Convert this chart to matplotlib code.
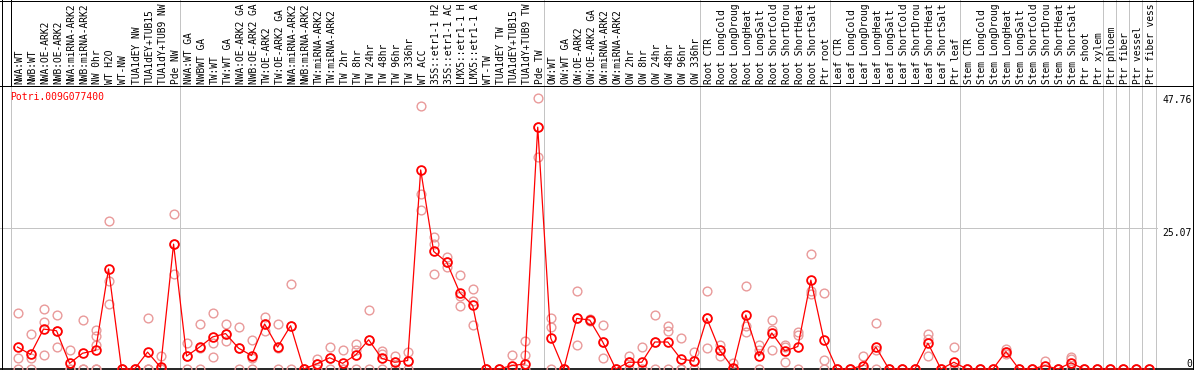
import matplotlib
matplotlib.use('Agg')
import matplotlib.pyplot as plt
from matplotlib.lines import Line2D
from matplotlib.transforms import blended_transform_factory

gene = 'Potri.009G077400'

# column labels, as far as the reference shows them (the header cuts them off)
labels = [
    'NWA:WT', 'NWB:WT', 'NWA:OE-ARK2', 'NWB:OE-ARK2', 'NWA:miRNA-ARK2', 'NWB:miRNA-ARK2',
    'NW 0hr', 'WT H2O', 'WT-NW', 'TUA1dEY NW', 'TUA1dEY+TUB15', 'TUA1dY+TUB9 NW', 'Pde NW',
    'NWA:WT GA', 'NWBWT GA', 'TW:WT', 'TW:WT GA', 'NWA:OE-ARK2 GA', 'NWB:OE-ARK2 GA',
    'TW:OE-ARK2', 'TW:OE-ARK2 GA', 'NWA:miRNA-ARK2', 'NWB:miRNA-ARK2', 'TW:miRNA-ARK2',
    'TW:miRNA-ARK2', 'TW 2hr', 'TW 8hr', 'TW 24hr', 'TW 48hr', 'TW 96hr', 'TW 336hr', 'WT ACC',
    '35S::etr1-1 H2', '35S::etr1-1 AC', 'LMX5::etr1-1 H', 'LMX5::etr1-1 A', 'WT-TW',
    'TUA1dEY TW', 'TUA1dEY+TUB15', 'TUA1dY+TUB9 TW', 'Pde TW',
    'OW:WT', 'OW:WT GA', 'OW:OE-ARK2', 'OW:OE-ARK2 GA', 'OW:miRNA-ARK2', 'OW:miRNA-ARK2',
    'OW 2hr', 'OW 8hr', 'OW 24hr', 'OW 48hr', 'OW 96hr', 'OW 336hr',
    'Root CTR', 'Root LongCold', 'Root LongDroug', 'Root LongHeat', 'Root LongSalt',
    'Root ShortCold', 'Root ShortDrou', 'Root ShortHeat', 'Root ShortSalt', 'Ptr root',
    'Leaf CTR', 'Leaf LongCold', 'Leaf LongDroug', 'Leaf LongHeat', 'Leaf LongSalt',
    'Leaf ShortCold', 'Leaf ShortDrou', 'Leaf ShortHeat', 'Leaf ShortSalt', 'Ptr leaf',
    'Stem CTR', 'Stem LongCold', 'Stem LongDroug', 'Stem LongHeat', 'Stem LongSalt',
    'Stem ShortCold', 'Stem ShortDrou', 'Stem ShortHeat', 'Stem ShortSalt', 'Ptr shoot',
    'Ptr xylem', 'Ptr phloem', 'Ptr fiber', 'Ptr vessel', 'Ptr fiber vess',
]

group_sizes = [13, 28, 12, 10, 10, 11, 1, 1, 1, 1]

mean_expr = [
    3.9, 2.6, 7.1, 6.8, 1.0, 2.8, 3.3, 17.8, 0, 0, 3.0, 0.3, 22.2,
    2.3, 3.9, 5.7, 6.3, 3.7, 2.4, 8.0, 3.9, 7.7, 0, 0.9, 2.0, 1.0, 2.5, 5.2, 1.9,
    1.2, 1.5, 35.4, 20.9, 19.0, 13.6, 11.3, 0, 0, 0.6, 0.9, 43.0,
    5.5, 0, 9.0, 8.7, 4.8, 0, 1.2, 1.2, 4.8, 4.8, 1.8, 1.4,
    9.0, 3.3, 0.2, 9.6, 2.3, 6.4, 3.2, 4.0, 15.8, 5.2,
    0, 0, 0.6, 3.9, 0, 0, 0, 4.6, 0, 1.2,
    0, 0, 0, 3.1, 0, 0, 0.6, 0, 1.1, 0, 0,
    0, 0, 0, 0,
]

replicates = [
    [9.9, 1.9, 0], [6.2, 1.9, 0], [10.6, 8.4, 2.5], [9.6, 6.8, 3.9], [3.3, 0, 0],
    [8.7, 0, 0], [6.9, 5.8, 4.3, 0, 0], [26.3, 15.6, 11.6], [0, 0, 0], [0, 0, 0],
    [9.1, 0, 0], [2.3, 0, 0], [27.6, 22.2, 16.9],
    [4.6, 2.3, 0], [8.0, 3.7, 0], [10.0, 4.6, 2.2], [8.0, 6.3, 5.0], [7.4, 3.7, 0],
    [5.2, 2.0, 0], [9.3, 8.0, 6.7], [8.0, 3.7, 0], [15.2, 7.7, 0], [0, 0, 0],
    [1.8, 0.9, 0], [4.0, 2.0, 0], [3.4, 0, 0], [4.5, 3.4, 0], [10.5, 5.2, 0],
    [3.2, 2.7, 0], [2.4, 1.2, 0], [3.0, 1.5, 0], [46.8, 31.1, 28.3],
    [23.5, 22.3, 16.9], [20.0, 19.0, 18.1], [16.7, 12.9, 11.2], [14.2, 12.1, 7.9],
    [0, 0, 0], [0, 0, 0], [2.5, 0, 0], [5.0, 2.5, 0], [48.2, 43.0, 37.7],
    [9.1, 7.4, 0], [0, 0, 0], [13.8, 9.0, 4.2], [8.9, 8.7, 8.5], [7.8, 4.8, 2.0],
    [0, 0, 0], [2.4, 1.2, 0], [3.9, 0, 0], [9.6, 4.8, 0], [7.7, 6.8, 0],
    [5.5, 0, 0], [3.0, 1.4, 0],
    [13.9, 9.0, 3.7], [4.3, 3.3, 2.3], [1.0, 0, 0], [14.8, 7.7, 6.6], [4.2, 3.4, 0],
    [8.7, 6.9, 3.4], [4.2, 4.0, 1.3], [6.5, 6.1, 0], [20.4, 13.8, 13.3], [13.6, 1.6, 0],
    [0, 0, 0], [0, 0, 0], [2.4, 0, 0], [8.2, 3.4, 0], [0, 0, 0],
    [0, 0, 0], [0, 0, 0], [6.3, 5.3, 2.4], [0, 0, 0], [4.0, 0, 0],
    [0, 0, 0], [0, 0, 0], [0, 0, 0], [3.6, 3.1, 2.7], [0, 0, 0],
    [0, 0, 0], [1.4, 0, 0], [0, 0, 0], [2.1, 1.7, 0], [0, 0, 0], [0, 0, 0],
    [0, 0, 0], [0, 0, 0], [0, 0, 0], [0, 0, 0],
]

yticks = [47.76, 25.07, 0]

W, H = 1194, 370
px = 0.72
mono = 'DejaVu Sans Mono'

fig = plt.figure(figsize=(W / 100, H / 100), dpi=100)
ax = fig.add_axes([11 / W, 1 / H, 1144.5 / W, 284 / H])
n = len(labels)
ax.set_xlim(-0.5, n - 0.5)
ax.set_ylim(0, 25.07 * 284 / 141)
ax.axis('off')

tr_xdata = blended_transform_factory(ax.transData, fig.transFigure)
tr_ydata = blended_transform_factory(fig.transFigure, ax.transData)

# group separators
bounds = [-0.5]
for g in group_sizes:
    bounds.append(bounds[-1] + g)
for b in bounds:
    ax.plot([b, b], [0, 1], transform=tr_xdata, color='#c4c4c4', lw=px, clip_on=False, zorder=1)
ax.plot([-0.5, -0.5], [1 - 85 / H, 1], transform=tr_xdata, color='black', lw=px, clip_on=False)

# horizontal gridline + axis lines
ax.plot([0, 1157 / W], [25.07, 25.07], transform=tr_ydata, color='#c4c4c4', lw=px, clip_on=False, zorder=1)
ax.plot([0, 1], [0, 0], transform=tr_ydata, color='black', lw=1.2, clip_on=False, zorder=1)
for xs, ys in [([0, 1], [1 - 85.5 / H] * 2), ([0, 1], [1 - 0.5 / H] * 2),
               ([2 / W, 2 / W], [0, 1]), ([1193 / W, 1193 / W], [0, 1])]:
    fig.add_artist(Line2D(xs, ys, transform=fig.transFigure, color='black', lw=px))

# column labels
for i, lab in enumerate(labels):
    ax.text(i + 0.15, 1 - 84 / H, lab, rotation=90, ha='center', va='bottom',
            fontsize=6.9, family=mono, transform=tr_xdata, clip_on=False)

# replicate values
rx, ry = [], []
for i, reps in enumerate(replicates):
    for v in reps:
        rx.append(i)
        ry.append(v)
ax.plot(rx, ry, linestyle='none', marker='o', ms=6.3, mfc='none', mec='#e99a9a',
        mew=1.0, clip_on=False, zorder=2)

# mean line
ax.plot(range(n), mean_expr, color='red', lw=0.9, marker='o', ms=6.3, mfc='none',
        mec='red', mew=1.3, clip_on=False, zorder=3)

fig.text(10 / W, 1 - 97 / H, gene, color='red', fontsize=7, family=mono, ha='left', va='center')

for v, va in zip(yticks, ['center', 'top', 'bottom']):
    ax.text(1192 / W, v, f'{v:g}' if v == 0 else f'{v:.2f}', transform=tr_ydata,
            ha='right', va=va, fontsize=7, family=mono, clip_on=False)

fig.savefig('out.png', dpi=100)
